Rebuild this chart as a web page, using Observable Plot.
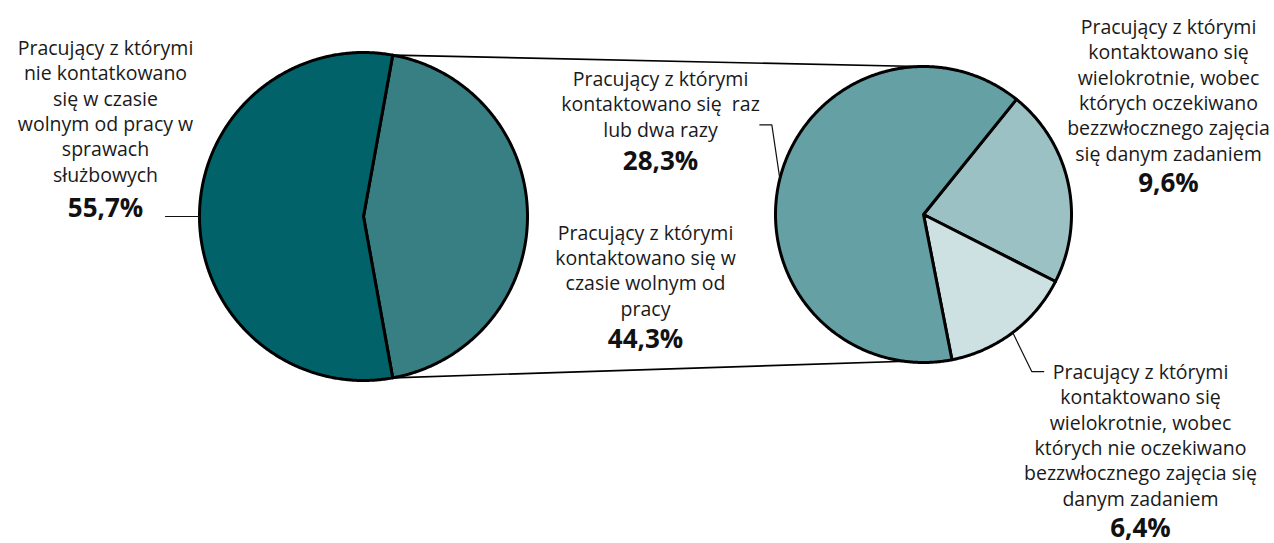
<!DOCTYPE html>
<html><head><meta charset="utf-8">
<script src="https://cdn.jsdelivr.net/npm/d3@7"></script>
<script src="https://cdn.jsdelivr.net/npm/@observablehq/plot@0.6"></script>
<style>body{margin:0;background:#fff}#chart svg{display:block}</style>
</head><body><div id="chart"></div>
<script>
// ---- data ----
const mainLabels = [
  "Pracujący z którymi\nkontaktowano się w\nczasie wolnym od\npracy",
  "Pracujący z którymi\nnie kontatkowano\nsię w czasie\nwolnym od pracy w\nsprawach\nsłużbowych"
];
const mainValues = [44.3, 55.7];
const detailLabels = [
  "Pracujący z którymi\nkontaktowano się\nwielokrotnie, wobec\nktórych oczekiwano\nbezzwłocznego zajęcia\nsię danym zadaniem",
  "Pracujący z którymi\nkontaktowano się\nwielokrotnie, wobec\nktórych nie oczekiwano\nbezzwłocznego zajęcia się\ndanym zadaniem",
  "Pracujący z którymi\nkontaktowano się  raz\nlub dwa razy"
];
const detailValues = [9.6, 6.4, 28.3];

// ---- styles / layout ----
const palette = ["#377f83", "#02626a", "#9bc1c4", "#cde0e2", "#65a0a4"];
const W = 1274, H = 543;
const FONT = "'Open Sans', sans-serif";
const FS = 19.5;
const mainPie = {cx: 363, cy: 216, r: 164, start: Math.PI / 2 - (mainValues[0] / 100) * Math.PI};
const detailPie = {cx: 923, cy: 214, r: 148, start: 38.9 * Math.PI / 180};

const pt = (p, a, r = p.r) => ({x: p.cx + r * Math.sin(a), y: p.cy - r * Math.cos(a)});

function arcsOf(p, values, labels) {
  const pie = d3.pie().sort(null).startAngle(p.start).endAngle(p.start + 2 * Math.PI);
  return pie(values).map((a, i) => ({...a, label: labels[i]}));
}
function polys(p, arcs) {
  const out = [];
  for (const a of arcs) {
    const n = Math.max(2, Math.ceil((a.endAngle - a.startAngle) / (Math.PI / 360)));
    out.push({x: p.cx, y: p.cy, key: a.label});
    for (let k = 0; k <= n; k++) {
      const t = a.startAngle + (a.endAngle - a.startAngle) * k / n;
      out.push({...pt(p, t), key: a.label});
    }
    out.push({x: p.cx, y: p.cy, key: a.label});
  }
  return out;
}

const mainArcs = arcsOf(mainPie, mainValues, mainLabels);
const detailArcs = arcsOf(detailPie, detailValues, detailLabels);
const slicePts = [...polys(mainPie, mainArcs), ...polys(detailPie, detailArcs)];

const a44 = mainArcs[0];
const connectors = [
  {p1: pt(mainPie, a44.startAngle), p2: pt(detailPie, -0.03)},
  {p1: pt(mainPie, a44.endAngle), p2: pt(detailPie, detailArcs[1].endAngle)}
];

const mid = a => (a.startAngle + a.endAngle) / 2;
const leaders = [];
function addLeader(key, p, arc, steps) {
  let c = pt(p, mid(arc));
  leaders.push({...c, key});
  for (const [dx, dy] of steps) { c = {x: c.x + dx, y: c.y + dy}; leaders.push({...c, key}); }
}
addLeader("l557", mainPie, mainArcs[1], [[-34, 0]]);
addLeader("l283", detailPie, detailArcs[2], [[-8, -54], [-12, 0]]);
addLeader("l64", detailPie, detailArcs[1], [[19, 39], [12, 0]]);

const fmt = v => d3.format(".1f")(v).replace(".", ",") + "%";
const blocks = [
  {text: mainLabels[1], pct: fmt(mainValues[1]), x: 105, y: 181, yp: 216},
  {text: mainLabels[0], pct: fmt(mainValues[0]), x: 645, y: 315, yp: 347},
  {text: detailLabels[2], pct: fmt(detailValues[2]), x: 660, y: 136, yp: 169},
  {text: detailLabels[0], pct: fmt(detailValues[0]), x: 1168, y: 160, yp: 191},
  {text: detailLabels[1], pct: fmt(detailValues[1]), x: 1140, y: 505, yp: 536}
];

const chart = Plot.plot({
  width: W, height: H,
  margin: 0,
  x: {domain: [0, W], range: [0, W], axis: null},
  y: {domain: [0, H], range: [0, H], axis: null},
  color: {domain: [...mainLabels, ...detailLabels], range: palette},
  style: {fontFamily: FONT, background: "#fff", color: "#111"},
  marks: [
    Plot.link(connectors, {x1: d => d.p1.x, y1: d => d.p1.y, x2: d => d.p2.x, y2: d => d.p2.y, stroke: "#000", strokeWidth: 1.6}),
    Plot.line(slicePts, {x: "x", y: "y", z: "key", fill: "key", stroke: "#000", strokeWidth: 3, strokeLinejoin: "round", curve: "linear"}),
    Plot.line(leaders, {x: "x", y: "y", z: "key", stroke: "#111", strokeWidth: 1.2}),
    Plot.text(blocks, {x: "x", y: "y", text: "text", lineAnchor: "bottom", lineHeight: 25.3 / FS, fontSize: FS, fill: "#1a1a1a", textAnchor: "middle"}),
    Plot.text(blocks, {x: "x", y: "yp", text: "pct", lineAnchor: "bottom", fontSize: 26, fontWeight: "bold", fill: "#111", textAnchor: "middle"})
  ]
});
document.getElementById("chart").appendChild(chart);
</script>
</body></html>
